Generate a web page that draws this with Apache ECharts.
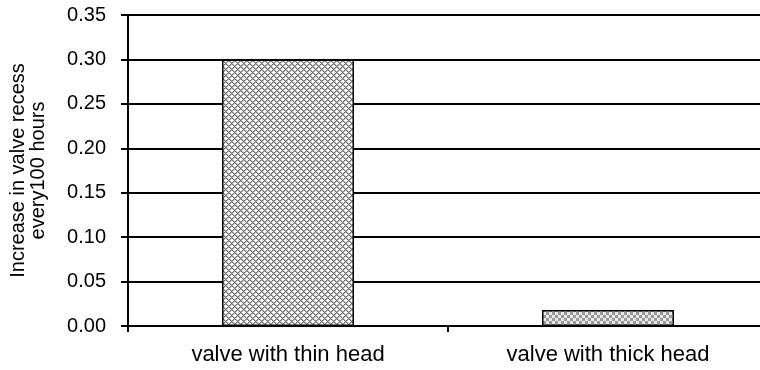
<!DOCTYPE html>
<html>
<head>
<meta charset="utf-8">
<script src="https://cdn.jsdelivr.net/npm/echarts@6/dist/echarts.min.js"></script>
<style>
  html, body { margin: 0; padding: 0; background: #fff; overflow: hidden; width: 760px; height: 370px; }
  #chart { width: 768px; height: 370px; }
</style>
</head>
<body>
<div id="chart"></div>
<script>
// Valve recess growth per 100 running hours, by valve head type
const categories = ['valve with thin head', 'valve with thick head'];
const recessIncrease = [0.30, 0.018];
const yTicks = { min: 0, max: 0.35, step: 0.05 };
const yAxisTitle = 'Increase in valve recess\nevery100 hours';

// Small tiled fills in the style of classic office-chart hatching
function makeTile(size, paint) {
  const c = document.createElement('canvas');
  c.width = size; c.height = size;
  const ctx = c.getContext('2d');
  ctx.fillStyle = '#ffffff';
  ctx.fillRect(0, 0, size, size);
  paint(ctx, size);
  return c;
}

// diagonal cross-hatch
const crossTile = makeTile(6, (ctx, n) => {
  ctx.fillStyle = '#6e6e6e';
  for (let x = 0; x < n; x++) {
    for (let y = 0; y < n; y++) {
      if ((x + y) % n === 0 || ((x - y) % n + n) % n === 0) ctx.fillRect(x, y, 1, 1);
    }
  }
  ctx.fillStyle = '#b0b0b0';
  for (let x = 0; x < n; x++) {
    for (let y = 0; y < n; y++) {
      if ((x + y) % n === 1 || ((x - y) % n + n) % n === 1) ctx.fillRect(x, y, 1, 1);
    }
  }
});

// small checkerboard
const checkTile = makeTile(6, (ctx, n) => {
  ctx.fillStyle = '#e8e8e8';
  ctx.fillRect(0, 0, n, n);
  ctx.fillStyle = '#9a9a9a';
  ctx.fillRect(0, 0, 3, 3);
  ctx.fillRect(3, 3, 3, 3);
});

const fills = [crossTile, checkTile];

const chart = echarts.init(document.getElementById('chart'), null, { renderer: 'canvas' });

const fontFamily = '"Liberation Sans", Arial, sans-serif';

chart.setOption({
  animation: false,
  backgroundColor: '#ffffff',
  textStyle: { fontFamily: fontFamily, color: '#000' },
  grid: { left: 125, right: 0, top: 15, bottom: 44, containLabel: false },
  xAxis: {
    type: 'category',
    data: categories,
    boundaryGap: true,
    axisLine: { show: true, lineStyle: { color: '#000', width: 2 } },
    axisTick: { show: true, interval: 0, alignWithLabel: false, length: 6, lineStyle: { color: '#000', width: 2 } },
    axisLabel: { color: '#000', fontSize: 22, fontFamily: fontFamily, margin: 18, interval: 0 },
    splitLine: { show: false }
  },
  yAxis: {
    type: 'value',
    min: yTicks.min,
    max: yTicks.max,
    interval: yTicks.step,
    name: yAxisTitle,
    nameLocation: 'middle',
    nameGap: 80,
    nameRotate: 90,
    nameTextStyle: { color: '#000', fontSize: 20, fontFamily: fontFamily, lineHeight: 20, align: 'center' },
    axisLine: { show: true, lineStyle: { color: '#000', width: 2 } },
    axisTick: { show: true, inside: false, length: 7, lineStyle: { color: '#000', width: 2 } },
    axisLabel: {
      color: '#000', fontSize: 20, fontFamily: fontFamily, margin: 22,
      formatter: v => v.toFixed(2)
    },
    splitLine: { show: true, lineStyle: { color: '#000', width: 2 } }
  },
  series: [{
    type: 'bar',
    data: recessIncrease.map((v, i) => ({
      value: v,
      itemStyle: {
        color: { image: fills[i], repeat: 'repeat' },
        borderColor: '#000',
        borderWidth: 1.5
      }
    })),
    barWidth: 132
  }]
});
</script>
</body>
</html>
